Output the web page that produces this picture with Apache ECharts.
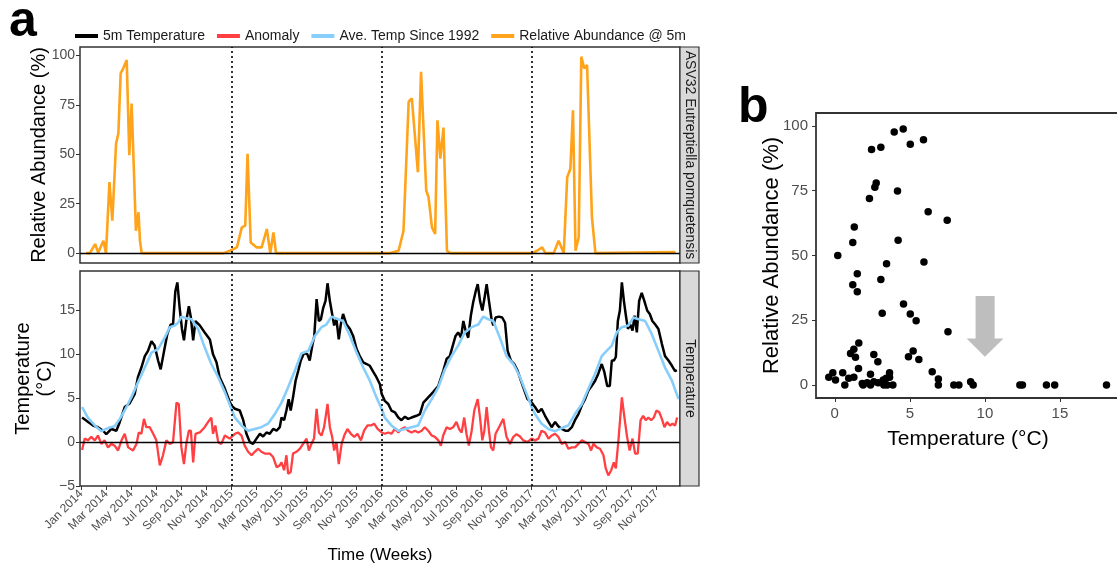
<!DOCTYPE html>
<html>
<head>
<meta charset="utf-8">
<script src="https://cdn.jsdelivr.net/npm/echarts@6/dist/echarts.min.js"></script>
<style>
  html, body { margin: 0; padding: 0; background: #fff; }
  #chart { width: 1117px; height: 569px; }
</style>
</head>
<body>
<div id="chart"></div>
<script>
// weeks since 1 Jan 2014 -> value
const temp5m = [
  [0.3,2.8],[2.4,2.3],[4.1,1.9],[5.8,1.7],[7.6,1.3],[8.7,0.9],[10.5,1.5],[12.2,1.3],[13.4,2.3],[15.1,4.0],
  [16.8,4.4],[18.6,5.5],[19.7,7.4],[20.9,8.5],[22.1,9.8],[23.2,10.4],[24.4,11.5],[25.5,11.0],[26.7,9.3],[27.6,8.3],
  [28.8,10.4],[29.9,12.3],[31.1,13.4],[31.9,13.4],[32.7,17.2],[33.4,18.2],[34.2,15.3],[35.0,12.9],[35.7,11.6],[36.5,13.8],
  [37.4,15.5],[38.1,14.2],[38.9,11.6],[39.7,13.8],[41.2,13.3],[42.9,12.5],[44.7,11.7],[45.8,10.0],[47.0,9.1],[48.1,7.4],
  [49.9,6.1],[50.8,5.3],[51.6,4.6],
  [52.2,4.2],[53.4,3.8],[55.1,3.6],[56.3,2.5],[57.4,0.95],[58.6,0],[59.7,-0.2],[60.9,0.4],[62.1,0.95],[63.2,0.65],
  [64.4,1.1],[65.5,0.95],[66.7,1.5],[67.9,1.3],[69.0,1.7],[69.6,2.8],[70.5,2.5],[71.3,3.6],[72.1,4.9],[72.8,3.6],
  [73.6,5.1],[74.5,7.0],[75.4,8.1],[76.3,9.3],[77.5,10.2],[78.6,10.0],[79.4,9.3],[80.3,11.0],[81.0,12.1],[81.8,16.3],
  [82.6,13.8],[83.3,14.0],[84.1,15.3],[84.9,16.1],[85.6,18.1],[86.4,16.1],[87.2,14.6],[87.9,13.3],[88.7,14.0],[89.5,11.7],
  [90.2,13.4],[91.0,14.6],[92.2,13.4],[93.4,12.9],[94.5,12.1],[95.7,10.6],[96.8,9.8],[98.0,9.1],[99.2,8.9],[100.3,8.7],
  [101.5,8.0],[102.6,7.4],[103.8,6.6],
  [104.4,5.5],[105.5,4.7],[106.7,4.35],[107.8,3.6],[109.0,3.4],[110.2,2.8],[111.3,2.5],[112.5,2.9],[113.6,2.65],[114.8,2.8],
  [116.5,3.0],[117.7,3.2],[118.9,4.5],[120.6,5.1],[122.3,5.7],[124.1,6.4],[125.8,8.1],[127.0,9.5],[128.1,9.8],[129.3,11.2],
  [130.1,12.1],[131.0,12.5],[132.0,11.9],[132.8,13.8],[133.6,12.7],[134.5,11.9],[135.4,14.4],[136.2,15.9],[137.1,17.2],[137.8,18.0],
  [138.6,16.1],[139.4,15.0],[140.1,16.3],[140.9,18.0],[141.7,16.1],[142.6,14.0],[143.2,13.3],[144.0,14.2],[145.2,14.3],[146.3,14.2],
  [147.3,13.6],[148.2,10.4],[149.3,9.3],[150.5,8.9],[151.7,8.1],[152.8,7.0],[154.0,5.9],[155.1,4.9],
  [156.6,4.5],[157.7,4.0],[158.9,3.4],[160.0,3.8],[161.2,3.0],[162.4,2.3],[163.5,1.7],[164.7,2.3],[165.8,1.8],[167.0,1.5],
  [168.2,1.3],[169.3,1.3],[170.5,1.7],[171.6,2.5],[172.8,3.2],[174.0,4.2],[175.1,4.9],[176.3,5.9],[177.4,6.4],[178.6,7.0],
  [179.7,7.8],[180.9,8.9],[181.8,8.0],[182.8,6.4],[183.7,6.4],[184.4,9.3],[185.1,9.3],[185.8,9.7],[186.5,13.8],[187.2,15.0],
  [187.9,18.2],[188.6,16.1],[189.3,14.4],[190.0,12.9],[190.8,13.4],[191.6,12.7],[192.3,14.4],[193.1,12.5],[193.9,16.1],[194.8,17.0],
  [195.7,16.1],[196.7,15.0],[197.6,14.6],[198.5,13.8],[199.5,13.4],[200.6,12.9],[201.8,11.2],[202.9,9.8],[204.1,9.3],[205.3,8.7],
  [206.4,8.1],[207.0,8.2]
];

const aveTemp = [
  [0.3,4.0],[2.3,2.8],[4.7,1.9],[7.0,1.25],[9.3,1.6],[11.6,1.8],[13.4,2.65],[15.1,3.6],[17.4,5.1],[19.7,6.8],
  [22.1,8.5],[24.4,10.2],[26.7,10.6],[29.0,11.9],[30.8,13.1],[32.5,13.3],[33.7,13.6],[34.8,14.3],[36.5,14.1],[38.3,14.0],
  [40.6,12.9],[42.9,10.8],[45.2,8.9],[47.6,7.4],[49.9,5.7],[52.4,3.6],
  [53.4,2.8],[55.7,1.9],[58.0,1.3],[60.3,1.5],[62.6,1.7],[64.9,2.1],[67.3,3.2],[69.6,4.5],[71.9,6.25],[74.2,8.1],
  [76.5,10.1],[78.9,10.4],[81.2,12.1],[83.5,13.1],[85.2,13.4],[87.0,14.3],[89.3,14.0],[91.0,13.8],[93.4,12.1],[95.7,10.2],
  [98.0,8.5],[100.3,7.0],[102.6,5.1],[104.4,3.8],
  [105.5,2.8],[107.8,1.9],[110.2,1.3],[112.5,1.5],[114.8,1.7],[117.1,1.9],[119.4,3.6],[121.8,4.9],[124.1,6.25],[126.4,8.3],
  [128.7,9.8],[131.0,11.0],[133.3,12.5],[135.7,13.1],[138.0,13.4],[139.7,14.3],[141.5,14.0],[143.2,13.8],[145.5,11.9],[147.8,9.8],
  [150.2,8.9],[152.5,7.4],[154.8,5.5],[156.8,3.8],
  [157.7,3.2],[160.0,2.1],[162.4,1.5],[164.7,1.25],[167.0,1.6],[169.3,1.9],[171.6,3.2],[174.0,4.35],[176.3,6.1],[178.6,7.8],
  [180.9,9.8],[182.6,10.4],[184.4,11.0],[186.1,12.5],[187.9,13.1],[190.2,13.3],[191.9,14.2],[193.7,14.0],[196.0,13.8],[198.3,12.3],
  [200.6,10.4],[202.9,8.5],[205.3,7.0],[207.6,4.9]
];

const anomaly = [
  [0.3,-0.9],[1.2,0.4],[2.3,0.2],[3.5,0.6],[4.7,0.2],[5.8,0.75],[7.0,-0.2],[8.1,0.2],[9.3,-0.6],[10.5,-0.2],
  [11.6,-0.4],[12.8,-0.95],[14.0,0.2],[15.1,0.95],[16.3,-0.6],[18.0,-0.95],[19.2,-0.2],[20.0,1.1],[20.9,0.95],[21.8,2.65],
  [22.6,1.7],[23.8,1.7],[25.0,0.95],[26.1,0.2],[27.3,-2.65],[28.4,-1.5],[29.6,0.2],[30.8,-0.2],[31.9,0],[33.1,4.5],
  [33.9,4.35],[34.8,-0.6],[35.7,-2.5],[36.5,-0.2],[37.4,1.3],[38.1,1.3],[38.9,-2.3],[39.7,0.95],[41.2,1.1],[42.9,1.7],
  [44.1,2.3],[45.2,2.8],[45.8,0.95],[46.6,1.9],[47.6,0],[48.7,-0.2],[49.9,0.75],[51.6,0.4],
  [52.2,0.6],[53.4,0.95],[54.5,1.1],[55.7,0.75],[56.8,-0.4],[58.0,-1.1],[59.2,-1.5],[60.3,-1.1],[61.5,-0.75],[62.6,-1.1],
  [63.8,-1.3],[65.5,-1.3],[66.7,-1.7],[67.9,-2.85],[69.0,-2.65],[69.6,-2.3],[70.5,-3.2],[71.3,-1.5],[71.9,-3.6],[72.8,-3.4],
  [73.6,-1.3],[74.8,-1.1],[76.0,-0.75],[77.1,-0.2],[78.3,0.4],[79.1,-0.95],[80.0,-0.2],[80.9,0.4],[81.8,3.8],[82.6,1.1],
  [83.5,0.75],[84.4,1.7],[85.6,4.35],[86.4,1.7],[87.2,0.6],[87.9,-0.95],[88.7,0],[89.5,-2.5],[90.5,-0.2],[91.4,0.75],
  [92.5,1.5],[93.7,0.95],[94.9,0.6],[96.0,0.95],[97.2,0.2],[98.3,1.3],[99.5,1.9],[100.7,1.9],[101.8,2.1],[103.0,1.5],
  [104.4,1.1],[105.5,0.95],[106.7,1.1],[107.8,0.95],[109.0,1.5],[110.2,1.1],[111.3,1.5],[112.5,1.7],[113.6,1.3],[114.8,1.1],
  [116.0,1.3],[117.1,1.1],[118.3,1.3],[119.4,1.7],[120.6,1.3],[121.8,0.75],[122.9,0.6],[124.1,0.2],[125.0,-0.4],[125.8,0.75],
  [127.0,1.7],[128.1,1.5],[129.3,1.7],[130.4,2.3],[131.3,1.5],[132.2,1.1],[133.1,2.8],[133.9,0.95],[134.7,-0.4],[135.7,1.3],
  [136.6,3.6],[137.8,4.9],[138.6,2.8],[139.4,0.2],[140.1,1.3],[140.9,4.0],[141.7,1.3],[142.4,-0.6],[143.2,-0.95],[144.0,0.95],
  [145.2,1.7],[146.7,2.65],[147.8,0.6],[149.0,-0.2],[150.2,0.6],[151.3,0.9],[152.5,0.65],[153.6,0.2],[155.1,0],[156.5,0.4],
  [157.7,0.2],[158.9,0.4],[160.0,1.3],[161.2,1.1],[162.4,0.4],[163.5,0.75],[164.7,0.95],[165.8,0.6],[167.0,-0.2],[168.2,0],
  [169.3,-0.75],[170.5,-0.6],[171.6,-0.6],[172.8,-0.2],[174.0,0.2],[175.1,0],[176.3,-0.2],[177.2,-0.95],[178.0,-0.2],[179.2,-0.6],
  [180.3,-0.75],[181.5,-1.5],[182.3,-3.0],[183.2,-3.8],[184.2,-3.2],[185.1,-2.3],[185.8,-3.0],[186.7,0.2],[187.9,5.1],[188.8,2.8],
  [189.7,0.6],[190.6,-0.95],[191.6,0.4],[192.5,-1.3],[193.4,-1.3],[194.4,2.5],[195.3,3.0],[196.2,2.5],[197.1,2.8],[198.1,2.5],
  [199.0,2.8],[199.9,3.6],[200.9,3.4],[201.8,2.65],[202.7,1.7],[203.6,2.3],[204.6,1.9],[205.5,2.1],[206.4,1.9],[207.1,2.8]
];

const relAbundance = [
  [1.7,0],[3.0,0],[4.8,4.6],[5.9,0.3],[7.7,6.3],[8.6,0],[9.8,35.9],[10.8,16.4],[12.1,55.4],[12.9,60.5],
  [13.7,91],[14.6,93.5],[15.8,97.7],[16.7,49.5],[17.5,75.7],[18.1,50.3],[19.0,11.3],[19.9,20.7],[20.4,6.3],[21.0,0],
  [49.4,0],[51.7,1.2],[54.1,2.9],[55.8,13],[57.0,13.9],[57.8,50.3],[58.9,5.4],[61.0,2.9],[62.7,2.9],[64.5,12.2],
  [65.7,0],[66.8,10.5],[67.7,0],
  [107.4,0],[110.3,1.2],[112.0,11.3],[113.8,76.6],[114.9,78.3],[117.0,41],[118.1,91.8],[119.9,31.7],[120.7,28.3],[121.9,13],
  [123.0,9.7],[123.8,67.2],[124.8,47.8],[125.9,63.5],[127.1,1.2],[128.3,0],
  [156.7,0],[158.4,1.2],[160.2,2.9],[161.3,0],[164.2,0],[165.9,6.3],[167.7,0],[168.9,38.4],[170.0,42.7],[170.9,72.3],
  [171.8,1.2],[172.9,8],[173.8,99.4],[174.8,93.5],[175.8,95.2],[177.5,18.1],[178.7,0],[206.5,0.5]
];

// panel b: [temperature °C, relative abundance %]
const scatterPoints = [
  [0.2,50],[1.2,55],[1.3,61],[1.5,43],[1.2,38.7],[1.5,36],[2.45,90.9],[3.07,91.8],[3.96,97.7],[4.56,98.8],
  [5.03,92.9],[5.91,94.7],[2.76,78],[2.67,76.3],[2.31,72],[4.18,74.9],[6.22,66.9],[7.49,63.6],[4.22,55.9],[3.45,46.8],
  [5.94,47.5],[3.07,40.7],[4.58,31.3],[3.16,27.7],[5.03,27.4],[5.42,24.8],[7.54,20.6],[1.6,16.2],[1.27,13.8],[1.05,12.2],
  [1.38,10.7],[2.6,11.8],[2.87,9],[5.22,13.1],[4.91,10.9],[5.6,9.9],[6.49,5.1],[6.9,2.3],[6.9,0],[1.58,6.4],
  [-0.4,3],[-0.13,4.7],[0.05,1.9],[0.53,4.7],[0.67,0],[0.93,2.6],[1.27,3],[1.89,0],[2.16,0.9],[2.38,4.2],
  [2.6,1.3],[2.89,0.9],[3.27,0],[3.43,2.6],[3.65,4.7],[3.65,3],[3.87,0],[3.49,0],[3.23,1.9],[7.93,0],
  [8.27,0],[9.05,1.3],[9.22,0],[12.33,0],[12.5,0],[14.1,0],[14.65,0],[18.1,0],[2.38,0],[1.83,0.6]
];

const monthNames = ['Jan', 'Mar', 'May', 'Jul', 'Sep', 'Nov'];
const years = [2014, 2015, 2016, 2017];
const yearStarts = [12, 24, 36]; // months since Jan 2014
const abundTicks = [0, 25, 50, 75, 100];
const tempTicks = [-5, 0, 5, 10, 15];
const scatterXTicks = [0, 5, 10, 15];

const xTickLabels = [];
const xTickValues = [];
years.forEach((y, yi) => monthNames.forEach((m, mi) => {
  xTickLabels.push(m + ' ' + y);
  xTickValues.push(yi * 12 + mi * 2);
}));

const weekToMonth = 12 / 52.1775;
const toMonths = pairs => pairs.map(p => [p[0] * weekToMonth, p[1]]);

const FONT = 'Liberation Sans, Arial, sans-serif';
const tickGrey = '#4d4d4d';

const chart = echarts.init(document.getElementById('chart'));

const dotted = yearStarts.map(m => ({xAxis: m, lineStyle: {type: [2, 3], color: '#000', width: 1.6}}));
const zeroLine = {yAxis: 0, lineStyle: {type: 'solid', color: '#000', width: 1.3}};

const lineSeries = (name, data, color, xi, z, width) => ({
  name, type: 'line', data: toMonths(data), xAxisIndex: xi, yAxisIndex: xi,
  showSymbol: false, symbol: 'none', z,
  lineStyle: {color, width: width || 2.5}, itemStyle: {color}
});

const refSeries = (idx) => ({
  type: 'line', data: [], xAxisIndex: idx, yAxisIndex: idx, z: 1, silent: true,
  markLine: {symbol: 'none', silent: true, label: {show: false}, animation: false,
    data: [zeroLine].concat(dotted)}
});

const timeAxis = (showLabels) => ({
  type: 'value', gridIndex: showLabels ? 1 : 0, min: -0.1, max: 47.86,
  axisLine: {show: false, onZero: false}, splitLine: {show: false},
  axisTick: {show: showLabels, customValues: xTickValues, length: 4, lineStyle: {color: '#333', width: 1}},
  axisLabel: {
    show: showLabels, customValues: xTickValues, rotate: 45, margin: 6,
    fontSize: 12, color: tickGrey, fontFamily: FONT,
    formatter: v => xTickLabels[Math.round(v / 2)] || ''
  },
  name: showLabels ? 'Time (Weeks)' : '', nameLocation: 'middle', nameGap: 61, nameMoveOverlap: false,
  nameTextStyle: {fontSize: 17, color: '#000', fontFamily: FONT}
});

const valueAxis = (grid, min, max, ticks, name, gap, size, extra) => Object.assign({
  type: 'value', gridIndex: grid, min, max,
  axisLine: {show: false, onZero: false}, splitLine: {show: false},
  axisTick: {show: true, customValues: ticks, length: 4, lineStyle: {color: '#333', width: 1}},
  axisLabel: {customValues: ticks, fontSize: 14, color: tickGrey, fontFamily: FONT, margin: 5,
    formatter: v => String(v).replace('-', '\u2212')},
  name, nameLocation: 'middle', nameGap: gap, nameMoveOverlap: false,
  nameTextStyle: {fontSize: size, color: '#000', fontFamily: FONT, lineHeight: 22}
}, extra || {});

const gridBase = {show: true, borderColor: '#333', backgroundColor: '#fff', outerBoundsMode: 'none', containLabel: false};

chart.setOption({
  animation: false,
  textStyle: {fontFamily: FONT},
  legend: {
    data: ['5m Temperature', 'Anomaly', 'Ave. Temp Since 1992', 'Relative Abundance @ 5m'],
    left: 70, top: 24, icon: 'rect', itemWidth: 23, itemHeight: 4, itemGap: 12,
    textStyle: {fontSize: 14, color: '#1a1a1a', fontFamily: FONT}
  },
  grid: [
    Object.assign({left: 80, top: 47, width: 600, height: 216, borderWidth: 1.5}, gridBase),
    Object.assign({left: 80, top: 271, width: 600, height: 215, borderWidth: 1.5}, gridBase),
    Object.assign({left: 816, top: 113, width: 304, height: 285, borderWidth: 1.8}, gridBase)
  ],
  xAxis: [
    timeAxis(false),
    timeAxis(true),
    valueAxis(2, -1.25, 19, scatterXTicks, 'Temperature (\u00b0C)', 30, 21, {
      axisLabel: {customValues: scatterXTicks, fontSize: 15, color: tickGrey, fontFamily: FONT, margin: 8}
    })
  ],
  yAxis: [
    valueAxis(0, -5, 104.3, abundTicks, 'Relative Abundance (%)', 30, 20),
    valueAxis(1, -5, 19.5, tempTicks, 'Temperature\n(\u00b0C)', 24, 20),
    valueAxis(2, -5, 105, abundTicks, 'Relative Abundance (%)', 33, 22, {
      axisLabel: {customValues: abundTicks, fontSize: 15, color: tickGrey, fontFamily: FONT, margin: 8}
    })
  ],
  series: [
    refSeries(0),
    lineSeries('Relative Abundance @ 5m', relAbundance, '#ffa31a', 0, 3, 2.6),
    refSeries(1),
    lineSeries('5m Temperature', temp5m, '#000000', 1, 2, 2.5),
    lineSeries('Anomaly', anomaly, '#ff3f42', 1, 3, 2.3),
    lineSeries('Ave. Temp Since 1992', aveTemp, '#87cefa', 1, 4, 2.6),
    {
      type: 'scatter', data: scatterPoints, xAxisIndex: 2, yAxisIndex: 2,
      symbolSize: 7.5, itemStyle: {color: '#000', opacity: 1}, z: 3
    }
  ]
});

// grey arrow annotation in panel b, placed in data coordinates
const arrowShape = [[9.38,34.4],[10.65,34.4],[10.65,18.0],[11.24,18.0],[10.0,10.9],[8.78,18.0],[9.38,18.0]];
const arrowPx = arrowShape.map(p => chart.convertToPixel({gridIndex: 2}, p));

const strip = (y, h, text) => [
  {type: 'rect', shape: {x: 680, y, width: 19, height: h},
    style: {fill: '#d9d9d9', stroke: '#333', lineWidth: 1.2}, z: 10},
  {type: 'text', x: 689.5, y: y + h / 2, rotation: -Math.PI / 2, z: 11,
    style: {text, font: '14px ' + FONT, fill: '#1a1a1a', align: 'center', verticalAlign: 'middle'}}
];

chart.setOption({
  graphic: [
    {type: 'polygon', shape: {points: arrowPx}, style: {fill: '#bebebe'}, z: 5},
    {type: 'text', style: {x: 9, y: 22, text: 'a', font: 'bold 50px ' + FONT, fill: '#000', verticalAlign: 'middle'}},
    {type: 'text', style: {x: 738, y: 108, text: 'b', font: 'bold 50px ' + FONT, fill: '#000', verticalAlign: 'middle'}}
  ].concat(strip(47, 216, 'ASV32 Eutreptiella pomquetensis'), strip(271, 215, 'Temperature'))
});
</script>
</body>
</html>
